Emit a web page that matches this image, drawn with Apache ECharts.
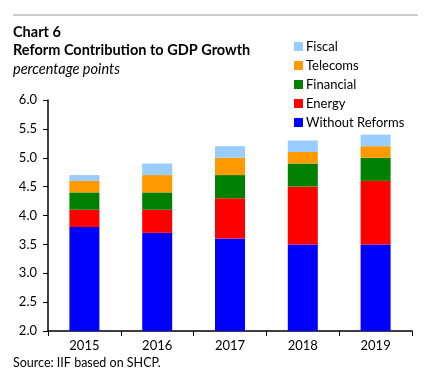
<!DOCTYPE html>
<html><head><meta charset="utf-8">
<script src="https://cdn.jsdelivr.net/npm/echarts@6/dist/echarts.min.js"></script>
<style>html,body{margin:0;padding:0;background:#fff}#c{width:447px;height:389px}</style>
</head><body><div id="c"></div>
<script>
const categories = ['2015','2016','2017','2018','2019'];
const withoutReforms = [3.8, 3.7, 3.6, 3.5, 3.5];
const energy = [0.3, 0.4, 0.7, 1.0, 1.1];
const financial = [0.3, 0.3, 0.4, 0.4, 0.4];
const telecoms = [0.2, 0.3, 0.3, 0.2, 0.2];
const fiscal = [0.1, 0.2, 0.2, 0.2, 0.2];
const yTicks = [2.0, 2.5, 3.0, 3.5, 4.0, 4.5, 5.0, 5.5, 6.0];

const font = 'Lato, "Open Sans", sans-serif';
const chart = echarts.init(document.getElementById('c'));
const mk = (name, data, color) => ({
  name, type: 'bar', stack: 'total', data, barWidth: 30,
  itemStyle: { color }, emphasis: { disabled: true }
});
chart.setOption({
  animation: false,
  textStyle: { fontFamily: font },
  graphic: [
    { type: 'line', shape: { x1: 13, y1: 15, x2: 418, y2: 15 }, style: { stroke: '#cccccc', lineWidth: 2 } },
    { type: 'text', left: 13, top: 25, style: { text: 'Chart 6', font: 'bold 14.5px ' + font, fill: '#000' } },
    { type: 'text', left: 13, top: 43, style: { text: 'Reform Contribution to GDP Growth', font: 'bold 14.5px ' + font, fill: '#000' } },
    { type: 'text', left: 13, top: 62, style: { text: 'percentage points', font: 'italic 14.5px ' + font, fill: '#000' } },
    { type: 'text', left: 13, top: 356, style: { text: 'Source: IIF based on SHCP.', font: '12.5px ' + font, fill: '#000' } }
  ],
  legend: {
    orient: 'vertical', left: 289, top: 35, itemWidth: 9, itemHeight: 9, itemGap: 6,
    icon: 'rect', textStyle: { fontSize: 13, color: '#000', fontFamily: font, padding: [0,0,0,-2] },
    data: ['Fiscal', 'Telecoms', 'Financial', 'Energy', 'Without Reforms']
  },
  grid: { left: 48, right: 35, top: 100, bottom: 58 },
  xAxis: {
    type: 'category', data: categories,
    axisLine: { lineStyle: { color: '#000', width: 1.5 } },
    axisTick: { show: true, length: 5, lineStyle: { color: '#000' }, alignWithLabel: false },
    axisLabel: { color: '#000', fontSize: 13, margin: 8 }
  },
  yAxis: {
    type: 'value', min: 2.0, max: 6.0, interval: 0.5,
    axisLine: { show: true, lineStyle: { color: '#000', width: 1.5 } },
    axisTick: { show: true, length: 5, lineStyle: { color: '#000' } },
    splitLine: { show: false },
    axisLabel: { color: '#000', fontSize: 13, margin: 11, formatter: v => yTicks.includes(v) ? v.toFixed(1) : '' }
  },
  series: [
    mk('Without Reforms', withoutReforms, '#0000ff'),
    mk('Energy', energy, '#ff0000'),
    mk('Financial', financial, '#008000'),
    mk('Telecoms', telecoms, '#ff9900'),
    mk('Fiscal', fiscal, '#99ccff')
  ]
});
</script></body></html>
